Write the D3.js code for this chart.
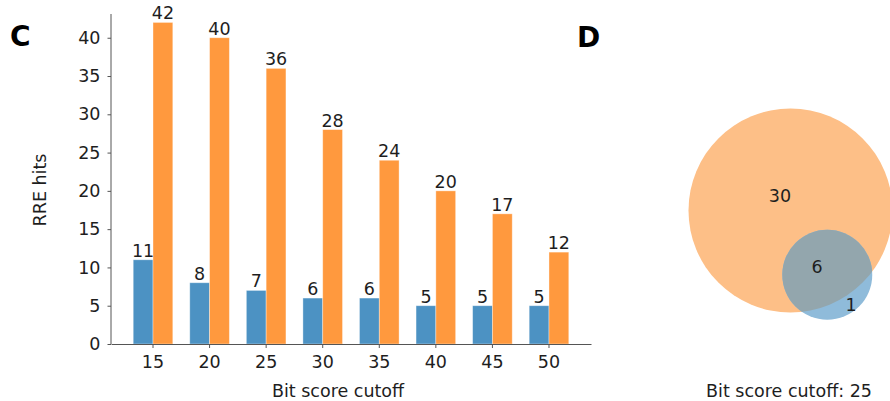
<!DOCTYPE html>
<html>
<head>
<meta charset="utf-8">
<script src="https://cdn.jsdelivr.net/npm/d3@7"></script>
<style>
  html, body { margin: 0; padding: 0; background: #fff; }
  svg { display: block; font-family: "DejaVu Sans", sans-serif; }
</style>
</head>
<body>
<svg id="fig" width="890" height="401"></svg>
<script>
// Bit score cutoffs and RRE hit counts for the two searches
const cutoffs = [15, 20, 25, 30, 35, 40, 45, 50];
const hitsBlue = [11, 8, 7, 6, 6, 5, 5, 5];
const hitsOrange = [42, 40, 36, 28, 24, 20, 17, 12];
const yTicks = [0, 5, 10, 15, 20, 25, 30, 35, 40];

// Venn diagram: hits shared by both searches at one cutoff
const vennCutoff = 25;
const vennShared = 6;

const colBlue = "#4c92c3";
const colOrange = "#ff993e";
const textCol = "#1e1e1e";
const axisCol = "#555";

const svg = d3.select("#fig");

// ---------- Panel C: grouped bar chart ----------
const plot = { left: 111, right: 591, top: 14, bottom: 344 };

const x0 = d3.scaleBand()
  .domain(cutoffs)
  .range([plot.left, plot.right])
  .paddingInner(0)
  .paddingOuter(0.2426);

const x1 = d3.scaleBand()
  .domain(["blue", "orange"])
  .range([0.15 * x0.bandwidth(), 0.85 * x0.bandwidth()]);

const y = d3.scaleLinear().domain([0, 43.1]).range([plot.bottom, plot.top]);

const rows = cutoffs.map((c, i) => ({
  cutoff: c,
  values: [
    { key: "blue", v: hitsBlue[i], color: colBlue },
    { key: "orange", v: hitsOrange[i], color: colOrange }
  ]
}));

const groups = svg.append("g").selectAll("g")
  .data(rows).join("g")
  .attr("transform", d => `translate(${x0(d.cutoff)},0)`);

groups.selectAll("rect")
  .data(d => d.values).join("rect")
  .attr("x", d => x1(d.key))
  .attr("width", x1.bandwidth())
  .attr("y", d => y(d.v))
  .attr("height", d => y(0) - y(d.v))
  .attr("fill", d => d.color)
  .attr("stroke", "#fff")
  .attr("stroke-opacity", 0.45)
  .attr("stroke-width", 0.8);

groups.selectAll("text")
  .data(d => d.values).join("text")
  .attr("x", d => x1(d.key) + x1.bandwidth() / 2)
  .attr("y", d => y(d.v) - 3)
  .attr("text-anchor", "middle")
  .attr("font-size", 17.5)
  .attr("fill", textCol)
  .text(d => d.v);

// y axis
const yAxis = svg.append("g")
  .attr("transform", `translate(${plot.left},0)`)
  .call(d3.axisLeft(y).tickValues(yTicks).tickSize(3.5).tickPadding(7).tickSizeOuter(0));
yAxis.select(".domain").attr("stroke", axisCol).attr("d", `M0,${plot.top}V${plot.bottom}`);
yAxis.selectAll(".tick line").attr("stroke", axisCol);
yAxis.selectAll(".tick text")
  .attr("font-family", "DejaVu Sans, sans-serif")
  .attr("font-size", 17.5)
  .attr("fill", textCol);

// x axis
const xAxis = svg.append("g")
  .attr("transform", `translate(0,${plot.bottom})`)
  .call(d3.axisBottom(x0).tickSize(4).tickPadding(8).tickSizeOuter(0));
xAxis.select(".domain").attr("stroke", axisCol);
xAxis.selectAll(".tick line").attr("stroke", axisCol);
xAxis.selectAll(".tick text")
  .attr("font-family", "DejaVu Sans, sans-serif")
  .attr("font-size", 17.5)
  .attr("fill", textCol);

// axis titles
svg.append("text")
  .attr("x", (plot.left + plot.right) / 2 - 13)
  .attr("y", 397)
  .attr("text-anchor", "middle")
  .attr("font-size", 17.5)
  .attr("fill", textCol)
  .text("Bit score cutoff");

svg.append("text")
  .attr("transform", `translate(46,190) rotate(-90)`)
  .attr("text-anchor", "middle")
  .attr("font-size", 17.5)
  .attr("fill", textCol)
  .text("RRE hits");

// panel letters
svg.append("text").attr("x", 10).attr("y", 46)
  .attr("font-size", 28).attr("font-weight", "bold").attr("fill", "#000").text("C");
svg.append("text").attr("x", 577).attr("y", 47)
  .attr("font-size", 28).attr("font-weight", "bold").attr("fill", "#000").text("D");

// ---------- Panel D: two-set Venn diagram ----------
const vi = cutoffs.indexOf(vennCutoff);
const totalOrange = hitsOrange[vi];
const totalBlue = hitsBlue[vi];
const onlyOrange = totalOrange - vennShared;
const onlyBlue = totalBlue - vennShared;

// circle areas proportional to set sizes
const r = d3.scaleSqrt().domain([0, totalOrange]).range([0, 102]);
const cO = { x: 790.5, y: 210.5, r: r(totalOrange) };
const rB = r(totalBlue);
// blue circle sits toward the lower right, poking out past the orange edge
const dir = [33.5, 58.5];
const dirLen = Math.hypot(dir[0], dir[1]);
const dist = cO.r - rB + 17;
const cB = { x: cO.x + dir[0] / dirLen * dist, y: cO.y + dir[1] / dirLen * dist, r: rB };

const defs = svg.append("defs");
defs.append("clipPath").attr("id", "clipOrange")
  .append("circle").attr("cx", cO.x).attr("cy", cO.y).attr("r", cO.r);

const venn = svg.append("g");
venn.append("circle").attr("cx", cO.x).attr("cy", cO.y).attr("r", cO.r).attr("fill", "#fdbf87");
venn.append("circle").attr("cx", cB.x).attr("cy", cB.y).attr("r", cB.r).attr("fill", "#8fbbda");
venn.append("circle").attr("cx", cB.x).attr("cy", cB.y).attr("r", cB.r)
  .attr("clip-path", "url(#clipOrange)").attr("fill", "#93a6ad");

const vennLabels = [
  { text: onlyOrange, x: 780, y: 196 },
  { text: vennShared, x: 817, y: 267 },
  { text: onlyBlue, x: 851, y: 305 }
];
venn.selectAll("text.vl").data(vennLabels).join("text")
  .attr("class", "vl")
  .attr("x", d => d.x).attr("y", d => d.y)
  .attr("text-anchor", "middle").attr("dominant-baseline", "central")
  .attr("font-size", 17.5).attr("fill", textCol)
  .text(d => d.text);

svg.append("text")
  .attr("x", 789).attr("y", 397)
  .attr("text-anchor", "middle")
  .attr("font-size", 17.5)
  .attr("fill", textCol)
  .text(`Bit score cutoff: ${vennCutoff}`);
</script>
</body>
</html>
